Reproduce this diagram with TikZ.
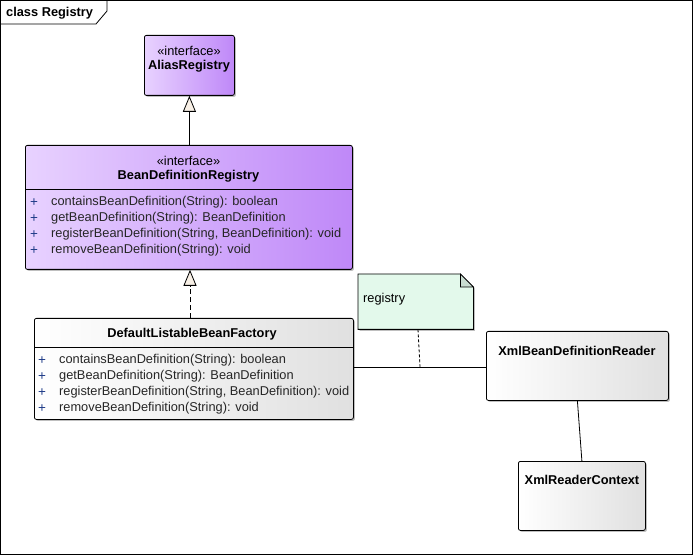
\documentclass[tikz,border=0pt]{standalone}
\usepackage{fontspec}
\setmainfont{Liberation Sans}
\usetikzlibrary{arrows.meta,shadows,calc}
\definecolor{ifl}{HTML}{E8D2FF}
\definecolor{ifr}{HTML}{BF88F8}
\definecolor{cll}{HTML}{FFFFFF}
\definecolor{clr}{HTML}{E0E0E0}
\definecolor{notefill}{HTML}{E3F9EB}
\definecolor{foldfill}{HTML}{C9DDD1}
\definecolor{tri}{HTML}{F8F0E6}
\definecolor{plusc}{HTML}{1F3C88}
\definecolor{txt}{HTML}{262626}
\begin{document}
\begin{tikzpicture}[x=1pt,y=-1pt,font=\fontsize{12.8}{15}\selectfont,
  box/.style={draw=black,line width=0.8pt,rounded corners=2pt,anchor=north west,inner sep=0pt,
    drop shadow={shadow xshift=1.5pt,shadow yshift=-1.5pt,fill=black,opacity=0.25}},
  iface/.style={box,left color=ifl,right color=ifr},
  cls/.style={box,left color=cll,right color=clr},
  lbl/.style={inner sep=0pt,text=black,yshift=-1.5pt},
  bold/.style={lbl,font=\fontsize{12.8}{15}\selectfont\bfseries},
  meth/.style={lbl,anchor=west,text=txt},
  plus/.style={lbl,text=plusc,font=\fontsize{13.5}{15}\selectfont},
  sep/.style={line width=0.8pt},
  gen/.style={line width=0.8pt,-{Triangle[length=16pt,width=13pt,fill=tri,line width=0.8pt]}},
  real/.style={gen,dash pattern=on 5pt off 3pt},
  assoc/.style={line width=0.8pt},
  notelink/.style={line width=0.8pt,dash pattern=on 3pt off 2pt}]
\useasboundingbox (0,0) rectangle (694,556);
\fill[white] (0,0) rectangle (694,556);
% frame
\draw[line width=0.8pt] (0.5,0.5) rectangle (692.5,554.5);
\draw[line width=0.8pt] (0.5,24) -- (96,24) -- (107,11) -- (107,0.5);
\node[bold,anchor=west] (title) at (6,11.5) {class Registry};
% AliasRegistry
\node[iface,minimum width=90pt,minimum height=60pt] (ar) at (144,35) {};
\node[lbl] (arst) at (189,49) {«interface»};
\node[bold] (arnm) at (189,65) {AliasRegistry};
% BeanDefinitionRegistry
\node[iface,minimum width=327pt,minimum height=124pt] (bdr) at (25,145) {};
\draw[sep] (25,189) -- (352,189);
\node[lbl] (bdrst) at (188.5,159) {«interface»};
\node[bold] (bdrnm) at (188.5,175) {BeanDefinitionRegistry};
\foreach \i/\t in {0/containsBeanDefinition(String): boolean,
                   1/getBeanDefinition(String): BeanDefinition,
                   2/{registerBeanDefinition(String, BeanDefinition): void},
                   3/removeBeanDefinition(String): void}{
  \node[plus] (bdrp\i) at (34,201+16*\i) {+};
  \node[meth] (bdrm\i) at (51,201+16*\i) {\t};
}
% DefaultListableBeanFactory
\node[cls,minimum width=319pt,minimum height=101pt] (dlbf) at (34,318) {};
\draw[sep] (34,347) -- (353,347);
\node[bold] (dlbfnm) at (192,333) {DefaultListableBeanFactory};
\foreach \i/\t in {0/containsBeanDefinition(String): boolean,
                   1/getBeanDefinition(String): BeanDefinition,
                   2/{registerBeanDefinition(String, BeanDefinition): void},
                   3/removeBeanDefinition(String): void}{
  \node[plus] (dlbfp\i) at (42,359+16*\i) {+};
  \node[meth] (dlbfm\i) at (59,359+16*\i) {\t};
}
% note
\node[inner sep=0pt,minimum width=115pt,minimum height=55pt,anchor=north west] (note) at (358,274) {};
\fill[black,opacity=0.25] ($(note.north west)+(1.5,1.5)$) -- ($(note.north east)+(-11.5,1.5)$) -- ($(note.north east)+(1.5,14.5)$) -- ($(note.south east)+(1.5,1.5)$) -- ($(note.south west)+(1.5,1.5)$) -- cycle;
\draw[line width=0.8pt,fill=notefill] (note.north west) -- ($(note.north east)+(-13,0)$) -- ($(note.north east)+(0,13)$) -- (note.south east) -- (note.south west) -- cycle;
\draw[line width=0.8pt,fill=foldfill] ($(note.north east)+(-13,0)$) -- ($(note.north east)+(-13,13)$) -- ($(note.north east)+(0,13)$) -- cycle;
\node[meth,text=black] (notetx) at (363,298) {registry};
% XmlBeanDefinitionReader
\node[cls,minimum width=182pt,minimum height=69pt] (reader) at (486,331) {};
\node[bold] (readernm) at (577,349) {XmlBeanDefinitionReader};
% XmlReaderContext
\node[cls,minimum width=127pt,minimum height=69pt] (ctx) at (518,461) {};
\node[bold] (ctxnm) at (582,478) {XmlReaderContext};
% connectors
\draw[gen] (ar.south |- bdr.north) -- (ar.south);
\coordinate (rx) at (190,0);
\draw[real] (rx |- dlbf.north) -- (rx |- bdr.south);
\coordinate (ay) at (0,367);
\draw[assoc] (dlbf.east |- ay) -- (reader.west |- ay);
\coordinate (nx) at (418,0);
\coordinate (nl) at (420,367);
\draw[notelink] (nx |- note.south) -- (nl);
\draw[assoc] (reader.south) -- (ctx.north);
\end{tikzpicture}
\end{document}
